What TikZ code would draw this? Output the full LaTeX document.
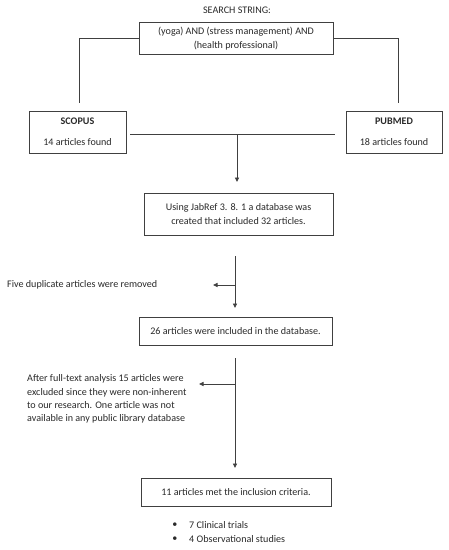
\documentclass[tikz,border=0pt]{standalone}
\usepackage{fontspec}
\setmainfont{Carlito}
\usetikzlibrary{arrows.meta}
\definecolor{ink}{HTML}{2A2A2A}
\definecolor{edge}{HTML}{404040}
\begin{document}
\begin{tikzpicture}[x=1pt,y=-1pt,
  every node/.style={font=\fontsize{10.1}{13.3}\selectfont, text=ink, inner sep=0pt},
  box/.style={draw=edge, line width=0.9pt, rectangle, align=center},
  conn/.style={draw=edge, line width=0.9pt},
  arr/.style={conn, -{Triangle[length=4.5pt,width=4pt]}},
  lbl/.style={align=left, anchor=west}]
\useasboundingbox (0,0) rectangle (449,550);
\fill[white] (0,0) rectangle (449,550);

\node (title) at (237,10) {SEARCH STRING:};
\node[box, minimum width=194pt, minimum height=32pt] (top) at (236,38.5)
  {(yoga) AND (stress management) AND\\(health professional)};
\node[box, minimum width=97pt, minimum height=42pt] (scopus) at (77.5,132)
  {\textbf{SCOPUS}\\[7.5pt]14 articles found};
\node[box, minimum width=96pt, minimum height=42pt] (pubmed) at (394,132)
  {\textbf{PUBMED}\\[7.5pt]18 articles found};
\node[box, minimum width=189pt, minimum height=42pt] (jab) at (238.5,214)
  {Using JabRef 3. 8. 1 a database was\\created that included 32 articles.};
\node[box, minimum width=193pt, minimum height=28pt] (db26) at (235.5,331)
  {26 articles were included in the database.};
\node[box, minimum width=190pt, minimum height=28pt] (db11) at (236,492)
  {11 articles met the inclusion criteria.};

\node[lbl] (dup) at (7,285) {Five duplicate articles were removed};
\node[lbl] (excl) at (27,399) {After full-text analysis 15 articles were\\excluded since they were non-inherent\\to our research. One article was not\\available in any public library database};

\node (b1) at (175,525) {•};
\node[anchor=west] (t1) at (189,525) {7 Clinical trials};
\node (b2) at (175,539) {•};
\node[anchor=west] (t2) at (189,539) {4 Observational studies};

\coordinate (l1) at (79,103);
\coordinate (r1) at (398,103);
\coordinate (h1) at (130,134);
\coordinate (h2) at (335,134);
\coordinate (hm) at (237,134);
\coordinate (a1) at (237,182);
\coordinate (v2s) at (235,256);
\coordinate (v2e) at (235,308);
\coordinate (s2s) at (235,285);
\coordinate (s2e) at (213,285);
\coordinate (v3s) at (235,358);
\coordinate (v3e) at (235,468);
\coordinate (s3s) at (235,384);
\coordinate (s3e) at (199,384);

\draw[conn] (top.west) -| (l1);
\draw[conn] (top.east) -| (r1);
\draw[conn] (h1) -- (h2);
\draw[arr] (hm) -- (a1);
\draw[arr] (v2s) -- (v2e);
\draw[arr] (s2s) -- (s2e);
\draw[arr] (v3s) -- (v3e);
\draw[arr] (s3s) -- (s3e);
\end{tikzpicture}
\end{document}
